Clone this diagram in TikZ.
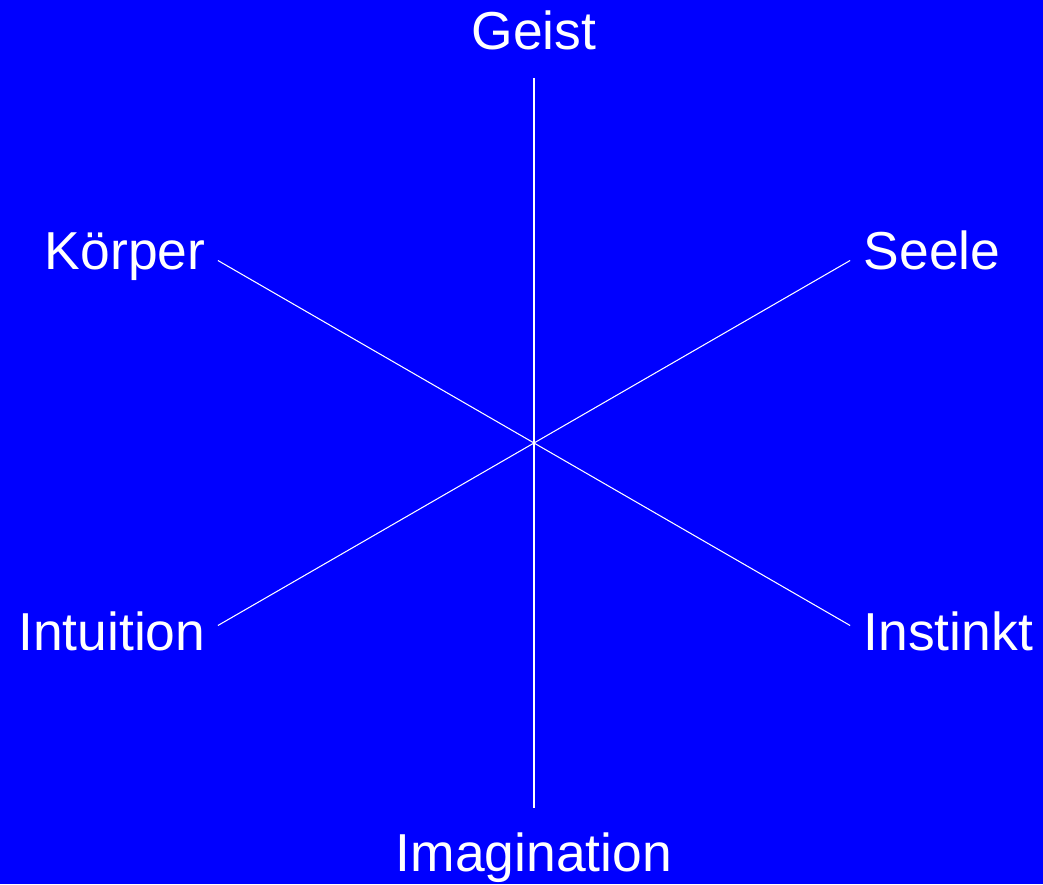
\documentclass[tikz,border=0pt]{standalone}
\usepackage{fontspec}
\setmainfont{Liberation Sans}
\usepackage{tikz}

\begin{document}
\begin{tikzpicture}[
        lbl/.style={text=white, inner sep=0pt, font=\fontsize{15.2}{18}\selectfont},
        spoke/.style={draw=white, line width=0.3pt}]

        % background
        \fill[blue] (-5.34,-4.41) rectangle (5.09,4.43);
        \useasboundingbox (-5.34,-4.41) rectangle (5.09,4.43);

        \coordinate (top)    at (90:3.65);
        \coordinate (bottom) at (270:3.65);
        \coordinate (ul)     at (150:3.65);
        \coordinate (lr)     at (330:3.65);
        \coordinate (ur)     at (30:3.65);
        \coordinate (ll)     at (210:3.65);

        \node[lbl, anchor=base]      (geist)  at (0,3.93)     {Geist};
        \node[lbl, anchor=base]      (imag)   at (0,-4.28)    {Imagination};
        \node[lbl, anchor=base east] (koerper) at (-3.28,1.73) {Körper};
        \node[lbl, anchor=base west] (seele)  at (3.29,1.73)  {Seele};
        \node[lbl, anchor=base east] (intu)   at (-3.28,-2.07) {Intuition};
        \node[lbl, anchor=base west] (inst)   at (3.29,-2.07) {Instinkt};

        \draw[spoke] (top) -- (bottom);
        \draw[spoke] (ul)  -- (lr);
        \draw[spoke] (ur)  -- (ll);
\end{tikzpicture}
\end{document}
